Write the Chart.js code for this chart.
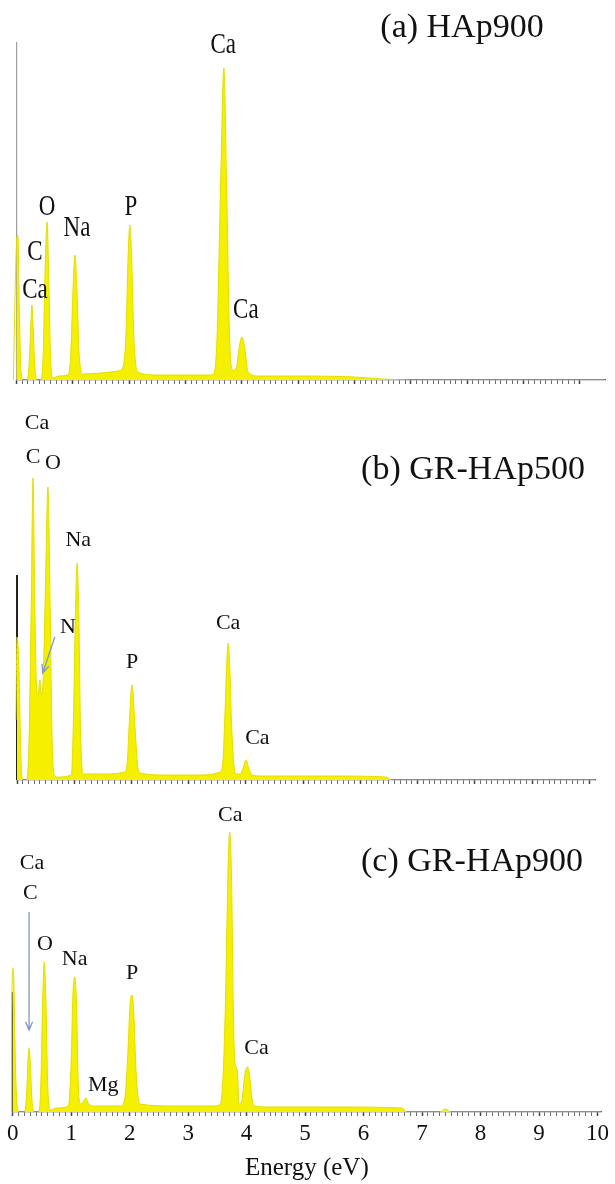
<!DOCTYPE html>
<html lang="en">
<head>
<meta charset="UTF-8" />
<title>EDS spectra</title>
<script src="https://cdn.jsdelivr.net/npm/chart.js"></script>
<style>
  body { margin: 0; background: #fff; }
  .wrap { position: relative; width: 615px; height: 1184px; }
  .panel { position: absolute; left: 0; width: 615px; }
  canvas { display: block; }
</style>
</head>
<body>
<div class="wrap">
  <div class="panel" style="top:0"><canvas id="chartA" width="615" height="400"></canvas></div>
  <div class="panel" style="top:400px"><canvas id="chartB" width="615" height="400"></canvas></div>
  <div class="panel" style="top:800px"><canvas id="chartC" width="615" height="384"></canvas></div>
</div>

<script>
// (a) HAp900 - energy (as printed on the axis) and counts (arbitrary units)
const energyA = [-0.06, 0.00, 0.02, 0.05, 0.08, 0.12, 0.18, 0.22, 0.25, 0.27, 0.29, 0.32, 0.36,
  0.42, 0.47, 0.50, 0.54, 0.57, 0.60, 0.64, 0.75, 0.90, 0.96, 1.00, 1.035, 1.07, 1.11, 1.18,
  1.50, 1.80, 1.88, 1.94, 1.98, 2.01, 2.04, 2.08, 2.15, 2.50, 3.00, 3.40, 3.50, 3.56, 3.62,
  3.68, 3.73, 3.78, 3.84, 3.90, 3.95, 4.00, 4.05, 4.11, 4.30, 5.00, 6.00, 6.50, 7.00, 10.45];
const countsA = [0, 140, 145, 60, 6, 0, 0, 15, 55, 75, 55, 15, 0,
  0, 25, 100, 158, 100, 25, 2, 4, 5, 25, 90, 125, 90, 25, 6,
  7, 9, 12, 45, 125, 155, 125, 45, 8, 5, 5, 5, 6, 45, 190,
  312, 190, 45, 10, 12, 32, 43, 32, 8, 4, 4, 3, 1, 0, 0];

// (b) GR-HAp500
const energyB = [-0.06, -0.02, 0.00, 0.03, 0.07, 0.10, 0.17, 0.21, 0.25, 0.28, 0.31, 0.34, 0.37,
  0.40, 0.43, 0.46, 0.50, 0.54, 0.58, 0.61, 0.65, 0.70, 0.95, 0.99, 1.02, 1.05, 1.08, 1.11, 1.16,
  1.50, 1.88, 1.93, 1.96, 2.01, 2.06, 2.10, 2.15, 2.60, 3.20, 3.55, 3.60, 3.63, 3.66, 3.69, 3.72,
  3.75, 3.79, 3.84, 3.90, 3.95, 4.00, 4.05, 4.11, 4.30, 5.50, 6.45, 6.55, 10.1];
const countsB = [0, 60, 143, 120, 20, 0, 0, 40, 180, 302, 180, 95, 85,
  100, 85, 105, 200, 293, 170, 50, 5, 3, 5, 70, 165, 217, 165, 50, 6,
  6, 8, 20, 55, 95, 55, 18, 7, 5, 5, 8, 20, 60, 110, 137, 110,
  55, 15, 6, 6, 12, 20, 12, 5, 4, 4, 3, 0, 0];

// (c) GR-HAp900
const energyC = [-0.06, -0.02, 0.00, 0.02, 0.05, 0.08, 0.12, 0.20, 0.24, 0.26, 0.28, 0.30, 0.33,
  0.37, 0.44, 0.48, 0.51, 0.54, 0.57, 0.60, 0.65, 0.75, 0.95, 1.00, 1.03, 1.06, 1.09, 1.12,
  1.16, 1.20, 1.25, 1.30, 1.40, 1.85, 1.92, 1.97, 2.01, 2.04, 2.07, 2.11, 2.17, 2.80, 3.45,
  3.55, 3.60, 3.64, 3.68, 3.71, 3.745, 3.77, 3.80, 3.84, 3.87, 3.92, 3.96, 3.99, 4.02, 4.05,
  4.09, 4.14, 4.40, 5.50, 6.65, 6.75, 7.30, 7.40, 7.50, 10.06];
const countsC = [0, 100, 144, 130, 40, 5, 0, 0, 20, 50, 64, 50, 12,
  0, 0, 25, 105, 150, 105, 25, 2, 4, 6, 50, 118, 135, 110, 30,
  8, 10, 14, 8, 6, 6, 15, 60, 110, 117, 100, 40, 8, 6, 6,
  8, 40, 115, 235, 280, 225, 110, 50, 42, 8, 12, 33, 43, 45, 37,
  14, 6, 5, 5, 4, 0, 0, 3, 0, 0];

// strobe (zero) line drawn by the analyser software
const zeroLineA = [0, 338];
const zeroLineB = [0, 205];
const zeroLineC = [0, 120];

const majorTicks = [0, 1, 2, 3, 4, 5, 6, 7, 8, 9, 10];

// peak labels, placed at (energy, counts)
const peaksA = [
  { text: 'Ca', e: 3.67, c: 335 }, { text: 'O', e: 0.54, c: 173 },
  { text: 'C', e: 0.325, c: 128 }, { text: 'Ca', e: 0.325, c: 90 },
  { text: 'Na', e: 1.07, c: 152 }, { text: 'P', e: 2.03, c: 173 },
  { text: 'Ca', e: 4.07, c: 70 }
];
const peaksB = [
  { text: 'Ca', e: 0.35, c: 357 }, { text: 'C', e: 0.28, c: 323 },
  { text: 'O', e: 0.63, c: 317 }, { text: 'Na', e: 1.07, c: 240 },
  { text: 'N', e: 0.89, c: 153 }, { text: 'P', e: 2.01, c: 118 },
  { text: 'Ca', e: 3.69, c: 157 }, { text: 'Ca', e: 4.2, c: 42 }
];
const peaksC = [
  { text: 'Ca', e: 3.72, c: 297 }, { text: 'Ca', e: 0.33, c: 249 },
  { text: 'C', e: 0.30, c: 219 }, { text: 'O', e: 0.55, c: 168 },
  { text: 'Na', e: 1.06, c: 153 }, { text: 'P', e: 2.04, c: 139 },
  { text: 'Mg', e: 1.55, c: 27 }, { text: 'Ca', e: 4.17, c: 64 }
];

const serif = '"Liberation Serif", "Times New Roman", serif';

function isMajor(v) {
  return majorTicks.some(m => Math.abs(v - m) < 1e-6);
}

function toPoints(xs, ys) {
  return xs.map((x, i) => ({ x: x, y: ys[i] }));
}

// labels, arrows and panel title
function overlay(cfg) {
  return {
    id: 'overlay',
    afterDatasetsDraw(chart) {
      const { ctx, scales: { x, y } } = chart;
      ctx.save();
      ctx.fillStyle = '#111';
      ctx.textAlign = 'center';
      ctx.textBaseline = 'middle';
      ctx.font = cfg.size + 'px ' + serif;
      cfg.peaks.forEach(p => {
        ctx.save();
        ctx.translate(x.getPixelForValue(p.e), y.getPixelForValue(p.c));
        ctx.scale(1, cfg.stretch || 1);
        ctx.fillText(p.text, 0, 0);
        ctx.restore();
      });
      (cfg.arrows || []).forEach(a => {
        const x1 = x.getPixelForValue(a.from[0]), y1 = y.getPixelForValue(a.from[1]);
        const x2 = x.getPixelForValue(a.to[0]), y2 = y.getPixelForValue(a.to[1]);
        const ang = Math.atan2(y2 - y1, x2 - x1);
        ctx.strokeStyle = '#7d98c8';
        ctx.lineWidth = 1.3;
        ctx.beginPath();
        ctx.moveTo(x1, y1);
        ctx.lineTo(x2, y2);
        ctx.moveTo(x2 - 9 * Math.cos(ang - 0.4), y2 - 9 * Math.sin(ang - 0.4));
        ctx.lineTo(x2, y2);
        ctx.lineTo(x2 - 9 * Math.cos(ang + 0.4), y2 - 9 * Math.sin(ang + 0.4));
        ctx.stroke();
      });
      ctx.font = '34px ' + serif;
      ctx.fillText(cfg.title, cfg.titleX, cfg.titleY);
      ctx.restore();
    }
  };
}

function spectrum(id, o) {
  new Chart(document.getElementById(id), {
    type: 'line',
    data: {
      datasets: [
        {
          data: toPoints(o.energy, o.counts),
          backgroundColor: '#f4f000',
          borderColor: '#e3de00',
          borderWidth: 1,
          fill: 'origin',
          pointRadius: 0,
          cubicInterpolationMode: 'monotone',
          clip: { left: 8, top: 0, right: 0, bottom: 0 }
        },
        {
          data: toPoints([0, 0], o.zeroLine),
          borderColor: o.zeroColor,
          borderWidth: o.zeroWidth,
          fill: false,
          pointRadius: 0,
          clip: { left: 8, top: 0, right: 0, bottom: 0 }
        }
      ]
    },
    options: {
      responsive: false,
      animation: false,
      layout: { padding: o.padding },
      plugins: { legend: { display: false }, tooltip: { enabled: false } },
      scales: {
        x: {
          type: 'linear',
          min: 0,
          max: o.xMax,
          border: { display: true, color: '#555', width: 1.3 },
          grid: {
            drawOnChartArea: false,
            drawTicks: true,
            tickLength: 4,
            tickColor: c => (c.tick && c.tick.value > 10.01) ? 'rgba(0,0,0,0)' : '#444',
            tickWidth: c => (c.tick && isMajor(c.tick.value)) ? 1.5 : 0.8
          },
          ticks: {
            display: o.showLabels,
            stepSize: 0.1,
            autoSkip: false,
            maxRotation: 0,
            includeBounds: false,
            padding: 4,
            color: '#111',
            font: { family: serif, size: 23 },
            callback: v => isMajor(v) ? String(Math.round(v)) : ''
          },
          title: {
            display: o.showLabels,
            text: 'Energy (eV)',
            color: '#111',
            font: { family: serif, size: 25 },
            padding: { top: 0, bottom: 1 }
          },
          afterFit: s => { s.height = o.axisHeight; }
        },
        y: { display: false, min: 0, max: o.yMax }
      }
    },
    plugins: [overlay(o.overlay)]
  });
}

spectrum('chartA', {
  energy: energyA, counts: countsA, zeroLine: zeroLineA, zeroColor: '#8a8a8a', zeroWidth: 1,
  xMax: 10.45, yMax: 340, axisHeight: 20, showLabels: false,
  padding: { left: 16.7, right: 10, top: 40, bottom: 0 },
  overlay: { peaks: peaksA, size: 23, stretch: 1.25, title: '(a) HAp900', titleX: 462, titleY: 28 }
});

spectrum('chartB', {
  energy: energyB, counts: countsB, zeroLine: zeroLineB, zeroColor: '#222', zeroWidth: 2,
  xMax: 10.1, yMax: 340, axisHeight: 20, showLabels: false,
  padding: { left: 17, right: 20, top: 40, bottom: 0 },
  overlay: {
    peaks: peaksB, size: 22, title: '(b) GR-HAp500', titleX: 473, titleY: 70,
    arrows: [{ from: [0.66, 143], to: [0.45, 107] }]
  }
});

spectrum('chartC', {
  energy: energyC, counts: countsC, zeroLine: zeroLineC, zeroColor: '#333', zeroWidth: 2,
  xMax: 10.06, yMax: 292, axisHeight: 72, showLabels: true,
  padding: { left: 12.7, right: 14, top: 20, bottom: 0 },
  overlay: {
    peaks: peaksC, size: 22, title: '(c) GR-HAp900', titleX: 472, titleY: 62,
    arrows: [{ from: [0.28, 200], to: [0.28, 82] }]
  }
});
</script>
</body>
</html>
